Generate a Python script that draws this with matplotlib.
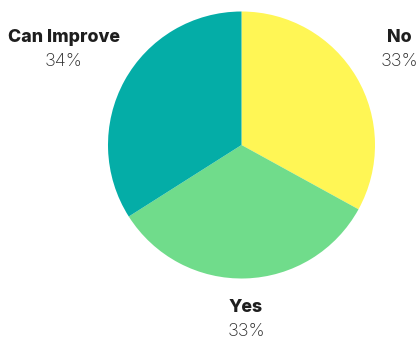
import matplotlib.pyplot as plt

labels = ['No', 'Yes', 'Can Improve']
values = [33, 33, 34]
colors = ['#FFF655', '#70DC8B', '#04ADA7']

fig = plt.figure(figsize=(4.18, 3.4), dpi=100)
ax = fig.add_axes([0, 0, 1, 1])

ax.pie(values, colors=colors, startangle=90, counterclock=False,
       center=(241.5, 195), radius=133.5, frame=True,
       wedgeprops=dict(linewidth=0))
ax.set_xlim(0, 418)
ax.set_ylim(0, 340)
ax.axis('off')

# label positions (pixel coords, y from bottom)
label_pos = [(399, 303), (246, 33), (64, 303)]
for lab, val, (x, y) in zip(labels, values, label_pos):
    ax.text(x, y, lab, ha='center', va='center', fontsize=12.8,
            fontfamily='Inter', fontweight='heavy', color='#1e1e1e')
    ax.text(x, y - 24, '%d%%' % val, ha='center', va='center', fontsize=13,
            fontfamily='Inter', fontweight='light', color='#2a2a2a')

fig.savefig('out.png', dpi=100)
